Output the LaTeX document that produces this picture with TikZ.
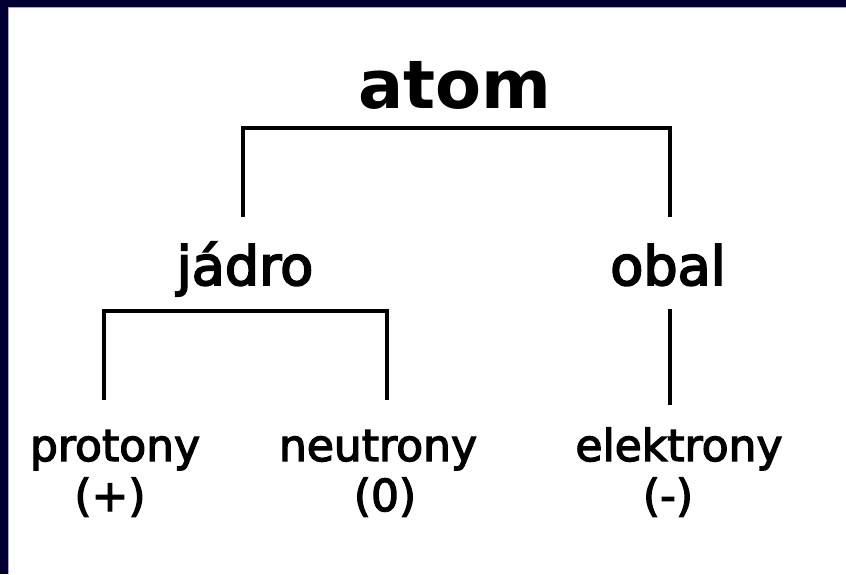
\documentclass[tikz,border=0pt]{standalone}
\usepackage{fontspec}
\setmainfont{DejaVu Sans}
\newfontfamily\semibA{DejaVu Sans}[FakeBold=3.5]
\newfontfamily\semibB{DejaVu Sans}[FakeBold=3]
\definecolor{navy}{HTML}{000033}
\definecolor{edgeline}{HTML}{A8A8C8}
\begin{document}
\begin{tikzpicture}[x=1pt,y=-1pt,
  lbl/.style={anchor=base,inner sep=0pt},
  big/.style={lbl,font=\fontsize{67}{67}\selectfont\bfseries},
  mid/.style={lbl,font=\fontsize{54}{54}\selectfont\semibA},
  small/.style={lbl,font=\fontsize{44}{44}\selectfont\semibB},
  link/.style={line width=3.2pt,line cap=butt,line join=miter}]
\useasboundingbox (0,0) rectangle (846,574);
\fill[navy] (0,0) rectangle (846,574);
\fill[white] (8,7) rectangle (846,574);
\draw[edgeline,line width=1pt] (8.5,574) -- (8.5,7.5) -- (846,7.5);
% nodes
\node[big] (atom) at (455,108) {atom};
\node[mid] (jadro) at (245,285) {jádro};
\node[mid] (obal) at (668,285) {obal};
\node[small] (protony) at (115,461) {protony};
\node[small] (neutrony) at (378,461) {neutrony};
\node[small] (elektrony) at (679,461) {elektrony};
\node[small] (plus) at (110,511) {(+)};
\node[small] (nula) at (385,511) {(0)};
\node[small] (minus) at (668,511) {(-)};
% connector end points
\coordinate (aL) at (243,217);
\coordinate (aR) at (670,217);
\coordinate (aT) at (455,128);
\coordinate (jL) at (104,400);
\coordinate (jR) at (387,400);
\coordinate (jT) at (245,311);
\coordinate (oT) at (670,309);
\coordinate (oB) at (670,405);
\draw[link] (aL) |- (aT) -| (aR);
\draw[link] (jL) |- (jT) -| (jR);
\draw[link] (oT) -- (oB);
\end{tikzpicture}
\end{document}
